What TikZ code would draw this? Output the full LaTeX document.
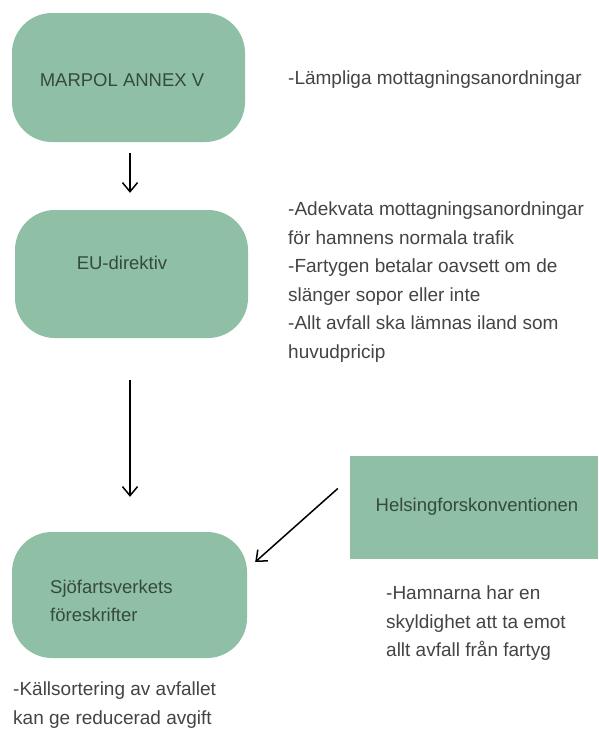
\documentclass[tikz,border=0pt]{standalone}
\usepackage{fontspec}
\setmainfont{Liberation Sans}
\usetikzlibrary{arrows.meta,calc}
\definecolor{boxfill}{RGB}{143,192,165}
\definecolor{boxtext}{RGB}{52,74,60}
\definecolor{note}{RGB}{68,68,68}
\tikzset{
  rbox/.style={fill=boxfill,draw=none,rounded corners=40pt,minimum width=#1,inner sep=0pt},
  btext/.style={text=boxtext,font=\fontsize{18.5}{28}\selectfont,inner sep=0pt,align=left},
  ntext/.style={text=note,font=\fontsize{19}{28.5}\selectfont,inner sep=0pt,align=left,anchor=north west},
  arr/.style={-{Straight Barb[length=9pt,width=15pt]},line width=1.5pt,black}
}
\begin{document}
\begin{tikzpicture}[x=1pt,y=-1pt]
\useasboundingbox[fill=white] (0,0) rectangle (598,731);
% boxes
\node[rbox=233pt,minimum height=129pt] (b1) at (128.5,77.5) {};
\node[rbox=233pt,minimum height=128pt] (b2) at (131.5,274) {};
\node[rbox=235pt,minimum height=126pt] (b3) at (129.5,595) {};
\node[fill=boxfill,draw=none,minimum width=248pt,minimum height=103pt,inner sep=0pt] (h) at (474,507.5) {};
% box texts
\node[btext] (t1) at (122,80) {MARPOL ANNEX V};
\node[btext] (t2) at (122,263) {EU-direktiv};
\node[btext,anchor=west] (t3) at (50,601) {Sjöfartsverkets\\föreskrifter};
\node[btext] (t4) at (477,507) {Helsingforskonventionen};
% notes
\node[ntext,anchor=west] (n1) at (288,80) {-Lämpliga mottagningsanordningar};
\node[ntext] (n2) at (288,202) {-Adekvata mottagningsanordningar\\för hamnens normala trafik\\-Fartygen betalar oavsett om de\\slänger sopor eller inte\\-Allt avfall ska lämnas iland som\\huvudpricip};
\node[ntext] (n3) at (386,586) {-Hamnarna har en\\skyldighet att ta emot\\allt avfall från fartyg};
\node[ntext] (n4) at (13,682) {-Källsortering av avfallet\\kan ge reducerad avgift};
% arrows
\draw[arr] ($(b1.south)+(1.5,11)$) -- ($(b2.north)+(-1.5,-17)$);
\draw[arr] ($(b2.south)+(-1.5,42)$) -- ($(b3.north)+(0.5,-35)$);
\draw[arr] ($(h.west)+(-12,-19)$) -- ($(b3.east)+(8,-33)$);
\end{tikzpicture}
\end{document}
